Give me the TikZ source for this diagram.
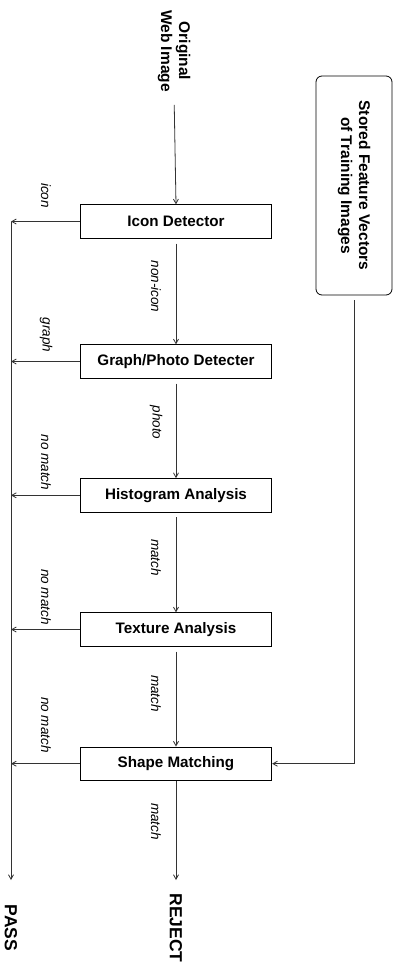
\documentclass[tikz,border=0pt]{standalone}
\usepackage{fontspec}
\setmainfont{Liberation Sans}
\usetikzlibrary{arrows.meta, positioning}

\begin{document}
\begin{tikzpicture}[x=1pt, y=-1pt,
  flow/.style={-{Straight Barb[length=4.5pt,width=5pt]}, line width=0.8pt, black!80},
  stage/.style={draw, line width=0.8pt, minimum width=191.5pt, minimum height=33.5pt,
    inner sep=0pt, font=\fontsize{15.2}{18}\selectfont\bfseries},
  term/.style={rotate=-90, inner sep=0pt, align=center,
    font=\fontsize{15.5}{18}\selectfont\bfseries},
  endterm/.style={rotate=-90, inner sep=0pt, font=\fontsize{17.5}{20}\selectfont\bfseries},
  tag/.style={rotate=-90, inner sep=0pt, font=\fontsize{13.5}{16}\selectfont\itshape}]
  \useasboundingbox (0,0) rectangle (396,964);

  % input and stored features
  \node[term] (orig) at (174,51) {Original\\Web Image};
  \node[term, draw, line width=0.8pt, rounded corners=6pt, minimum width=219pt,
    minimum height=76pt] (stored) at (354,185.5) {Stored Feature Vectors\\of Training Images};

  % stages
  \node[stage] (icon)  at (176,221.5) {Icon Detector};
  \node[stage] (graph) at (176,361.5) {Graph/Photo Detecter};
  \node[stage] (hist)  at (176,495.3) {Histogram Analysis};
  \node[stage] (tex)   at (176,629.5) {Texture Analysis};
  \node[stage] (shape) at (176,763.7) {Shape Matching};

  % outputs
  \coordinate (bus) at (11,221.5);
  \coordinate (passend) at (11,880);
  \coordinate (rejend) at (176,880);
  \node[endterm] (pass)   at (11,928)  {PASS};
  \node[endterm] (reject) at (176,928) {REJECT};

  % main path
  \draw[flow, shorten <=13pt] (orig.east) -- (icon.north);
  \draw[flow, shorten <=5pt] (icon.south) -- (graph.north);
  \draw[flow, shorten <=5pt] (graph.south) -- (hist.north);
  \draw[flow, shorten <=5pt] (hist.south) -- (tex.north);
  \draw[flow, shorten <=5pt] (tex.south) -- (shape.north);
  \draw[flow, shorten <=0pt] (shape.south) -- (rejend);
  \draw[flow, shorten <=5pt] (stored.east) |- (shape.east);

  % pass line
  \draw[flow] (bus) -- (passend);
  \foreach \s in {icon,graph,hist,tex,shape}
    \draw[flow] (\s.west) -- (\s.west -| bus);

  % labels
  \node[tag] (licon)  at (46,195.5) {icon};
  \node[tag] (lgraph) at (46,335)   {graph};
  \node[tag] (lhist)  at (46,462.5) {no match};
  \node[tag] (ltex)   at (46,597)   {no match};
  \node[tag] (lshape) at (46,725)   {no match};
  \node[tag] (lnon)   at (156,286.5) {non-icon};
  \node[tag] (lphoto) at (156,422.5) {photo};
  \node[tag] (lm1)    at (156,557.5) {match};
  \node[tag] (lm2)    at (156,693.5) {match};
  \node[tag] (lm3)    at (156,821.5) {match};
\end{tikzpicture}
\end{document}
